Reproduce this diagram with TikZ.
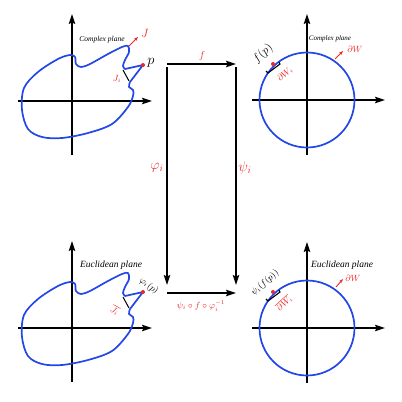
\documentclass[tikz,border=0pt]{standalone}
\usepackage{fontspec}
\setmainfont{Liberation Serif}
\usetikzlibrary{arrows.meta}
\definecolor{cblue}{RGB}{35,70,230}
\definecolor{cred}{RGB}{235,40,40}
\begin{document}
\begin{tikzpicture}[x=1pt,y=-1pt,
  axis/.style={line width=1.1pt,-{Stealth[length=10pt,width=6.5pt,inset=1.5pt]}},
  comm/.style={line width=1.1pt,-{Stealth[length=10pt,width=6.5pt,inset=1.5pt]}},
  blob/.style={draw=cblue,line width=1.7pt,line join=round},
  redarr/.style={draw=cred,line width=0.9pt,-{Stealth[length=4pt,width=3pt]}},
  lab/.style={inner sep=0pt,font=\itshape},
  rlab/.style={inner sep=0pt,text=cred},
  dot/.style={circle,fill=cred,inner sep=0pt,minimum size=4pt}]
\useasboundingbox (0,0) rectangle (402,402);
% ---------- top-left and bottom-left: blobs ----------
\foreach \dy in {0,227}{
  \begin{scope}[shift={(0,\dy)}]
  \draw[axis] (18,101) -- (152,101);
  \draw[axis] (72,155) -- (72,14);
  \draw[blob] plot[smooth,tension=0.55] coordinates {(130,82) (129,87) (133,90) (133,96) (128,107) (112,124) (88,133) (62,138) (42,137) (28,129) (22,110) (24,88) (38,72) (58,59) (70,55) (75,57) (76,64) (81,67) (90,64) (108,54) (122,47) (128,46) (129,52) (125,60) (123,66) (125,69)} -- (143,65) -- cycle;
  \draw[line width=1pt] (123,70) -- (129,81);
  \end{scope}
}
\node[dot] (p1) at (143,65) {};
\node[dot] (p2) at (143,292) {};
\coordinate (Jbase) at (129,46);
\coordinate (Jtip) at (138,37);
\draw[redarr] (Jbase) -- (Jtip);
\node[rlab,font=\large] (J) at (145,33) {$J$};
\node[inner sep=0pt,font=\Large] (plab) at (151,63) {$p$};
\node[rlab,font=\small] (Ji) at (117,79) {$J_i$};
\node[lab,font=\fontsize{7.5}{8}\selectfont\itshape] (cp1) at (102,40) {Complex plane};
\node[lab,font=\fontsize{9.5}{10}\selectfont\itshape] (ep1) at (111,265) {Euclidean plane};
\node[inner sep=0pt,rotate=-37,font=\small] (phip) at (149,286) {$\varphi_i(p)$};
\node[rlab,rotate=-30,font=\small] (Jib) at (115,310) {$\overline{J_i}$};
% ---------- right: circles ----------
\foreach \dy in {0,228}{
  \begin{scope}[shift={(0,\dy)}]
  \draw[axis] (252,100) -- (385,100);
  \draw[axis] (307,155) -- (307,14);
  \draw[draw=cblue,line width=1.7pt] (307,100) circle[radius=47.5];
  \draw[line width=1.1pt] (266,71) -- (268,73) .. controls (272,70) and (276,67) .. (280,64) -- (279,62);
  \end{scope}
}
\node[dot] (fp1) at (273,64) {};
\node[dot] (fp2) at (273,292) {};
\coordinate (W1a) at (335,59);
\coordinate (W1b) at (343,51);
\draw[redarr] (W1a) -- (W1b);
\node[rlab,font=\small] (W1) at (355,49) {$\partial W$};
\coordinate (W2a) at (336,287);
\coordinate (W2b) at (343,279);
\draw[redarr] (W2a) -- (W2b);
\node[rlab,font=\small] (W2) at (353,278) {$\partial W$};
\node[inner sep=0pt,rotate=43,font=\large] (fplab) at (263,54) {$f(p)$};
\node[rlab,rotate=42,font=\small] (dWi1) at (285,74) {$\partial W_i$};
\node[inner sep=0pt,rotate=42,font=\small] (psilab) at (265,283) {$\psi_i(f(p))$};
\node[rlab,rotate=42,font=\small] (dWi2) at (284,303) {$\overline{\partial W_i}$};
\node[lab,font=\fontsize{7}{8}\selectfont\itshape] (cp2) at (330,39) {Complex plane};
\node[lab,font=\fontsize{9.5}{10}\selectfont\itshape] (ep2) at (342,265) {Euclidean plane};
% ---------- commutative diagram ----------
\coordinate (A) at (167,64);
\coordinate (B) at (236,64);
\coordinate (A1) at (167,67);
\coordinate (B1) at (236,67);
\coordinate (C) at (167,285);
\coordinate (D) at (236,285);
\coordinate (C1) at (167,293);
\coordinate (D1) at (236,293);
\draw[comm] (A) -- (B);
\draw[comm] (A1) -- (C);
\draw[comm] (B1) -- (D);
\draw[comm] (C1) -- (D1);
\node[rlab] (f) at (202,56) {$f$};
\node[rlab,font=\Large] (phi) at (157,168) {$\varphi_i$};
\node[rlab,font=\Large] (psi) at (245,168) {$\psi_i$};
\node[rlab,font=\small] (comp) at (201,306) {$\psi_i\circ f\circ\varphi_i^{-1}$};
\end{tikzpicture}
\end{document}
